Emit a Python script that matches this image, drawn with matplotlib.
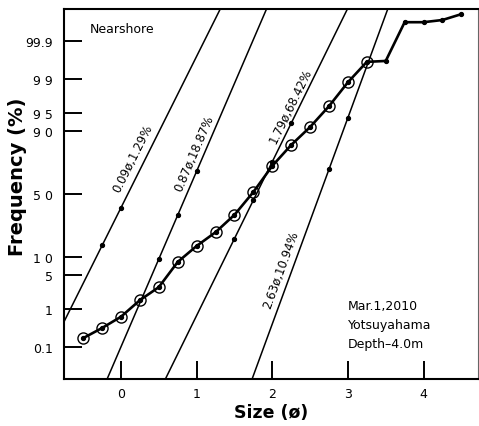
import numpy as np
import matplotlib
matplotlib.use('Agg')
import matplotlib.pyplot as plt
from statistics import NormalDist

ND = NormalDist()

# ---------------- data ----------------
size_phi = [-0.5, -0.25, 0.0, 0.25, 0.5, 0.75, 1.0, 1.25, 1.5, 1.75, 2.0,
            2.25, 2.5, 2.75, 3.0, 3.25, 3.5, 3.75, 4.0, 4.25, 4.5]
cum_freq = [0.18, 0.34, 0.66, 1.6, 3.0, 8.5, 14.7, 22.0, 33.7, 51.6, 71.5,
            83.9, 91.2, 96.2, 98.8, 99.62, 99.64, 99.974, 99.974, 99.978, 99.986]
n_circled = 16  # points drawn with open circles

pop_mean = [0.09, 0.87, 1.79, 2.63]
pop_sigma = [0.327, 0.282, 0.322, 0.240]
pop_percent = [1.29, 18.87, 68.42, 10.94]
pop_dot_phi = [[-0.25, 0.0], [0.5, 0.75, 1.0], [1.5, 1.75, 2.0, 2.25], [2.75, 3.0]]

ytick_vals = [0.1, 1, 5, 10, 50, 90, 95, 99, 99.9]
ytick_labels = ['0.1', '1', '5', '1 0', '5 0', '9 0', '9 5', '9 9', '99.9']
xtick_vals = [0, 1, 2, 3, 4]

# ---------------- probability scale ----------------
def _fwd(p):
    p = np.clip(np.asarray(p, dtype=float), 1e-9, 100 - 1e-9)
    return np.vectorize(lambda v: ND.inv_cdf(v / 100.0))(p) if p.size else p

def _inv(z):
    z = np.asarray(z, dtype=float)
    return np.vectorize(lambda v: ND.cdf(v) * 100.0)(z) if z.size else z

fig = plt.figure(figsize=(4.79, 4.27), dpi=100)
ax = fig.add_axes([64 / 479, 47 / 427, 414 / 479, 370 / 427])
ax.set_yscale('function', functions=(_fwd, _inv))
zlim = 3.737
ax.set_xlim(-0.754, 4.72)
ax.set_ylim(ND.cdf(-zlim) * 100, ND.cdf(zlim) * 100)

# ---------------- sub-population lines ----------------
lab_pos = [(0.16, 76.7), (0.97, 79.7), (2.24, 96.4), (2.12, 6.4)]
for m, s, pc, dots, (lx, ly) in zip(pop_mean, pop_sigma, pop_percent, pop_dot_phi, lab_pos):
    x_end = [m - 4.2 * s, m + 4.2 * s]
    y_end = [ND.cdf(-4.2) * 100, ND.cdf(4.2) * 100]
    ax.plot(x_end, y_end, color='black', lw=1.1, zorder=2)
    dy = [ND.cdf((d - m) / s) * 100 for d in dots]
    ax.plot(dots, dy, 'o', color='black', ms=2.8, zorder=3)
    p1 = ax.transData.transform((m - s, ND.cdf(-1) * 100))
    p2 = ax.transData.transform((m + s, ND.cdf(1) * 100))
    ang = np.degrees(np.arctan2(p2[1] - p1[1], p2[0] - p1[0]))
    ax.text(lx, ly, f'{m:.2f}\u00f8,{pc:.2f}%', rotation=ang, rotation_mode='anchor',
            ha='center', va='center', fontsize=8.5, zorder=4)

# ---------------- main curve ----------------
ax.plot(size_phi, cum_freq, color='black', lw=1.9, zorder=5)
ax.plot(size_phi, cum_freq, 'o', color='black', ms=2.8, zorder=6)
ax.plot(size_phi[:n_circled], cum_freq[:n_circled], 'o', mfc='none', mec='black',
        mew=1.0, ms=8, zorder=7)

# ---------------- axes styling ----------------
ax.set_yticks(ytick_vals)
ax.set_yticklabels(ytick_labels)
ax.yaxis.set_minor_locator(matplotlib.ticker.NullLocator())
ax.set_xticks(xtick_vals)
ax.tick_params(axis='both', direction='in', length=13, width=1.4, labelsize=9,
               colors='black')
ax.tick_params(axis='y', pad=8)
ax.tick_params(axis='x', pad=6)
ax.tick_params(top=False, right=False)

for side in ['left', 'bottom', 'top']:
    ax.spines[side].set_linewidth(1.5)
ax.spines['right'].set_linewidth(0.8)
ax.spines['right'].set_color('#666666')

ax.set_ylabel('Frequency (%)', fontsize=14, fontweight='bold')
ax.yaxis.set_label_coords(-0.09, 0.549)
ax.set_xlabel('Size (\u00f8)', fontsize=12.5, fontweight='bold', labelpad=2)

ax.text(0.063, 0.965, 'Nearshore', transform=ax.transAxes, fontsize=9,
        ha='left', va='top')
ax.text(0.685, 0.215, 'Mar.1,2010\nYotsuyahama\nDepth\u20134.0m', transform=ax.transAxes,
        fontsize=9, ha='left', va='top', linespacing=1.6)

fig.savefig('out.png', dpi=100)
